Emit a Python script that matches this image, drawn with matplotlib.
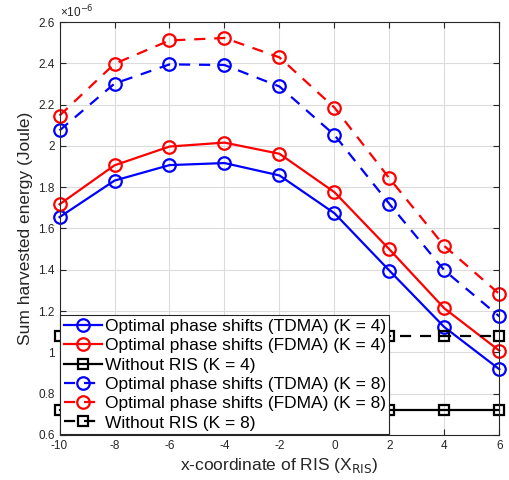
import matplotlib
matplotlib.use('Agg')
import matplotlib.pyplot as plt
from matplotlib.ticker import FuncFormatter

plt.rcParams['font.family'] = ['Liberation Sans', 'DejaVu Sans']
plt.rcParams['axes.unicode_minus'] = False

# x positions of the RIS and harvested energy (units of 1e-6 Joule)
x_ris = [-10, -8, -6, -4, -2, 0, 2, 4, 6]
tdma_k4 = [1.655, 1.832, 1.907, 1.917, 1.857, 1.674, 1.396, 1.122, 0.918]
fdma_k4 = [1.717, 1.906, 1.997, 2.016, 1.962, 1.776, 1.499, 1.213, 1.008]
noris_k4 = [0.72, 0.72, 0.72, 0.72, 0.72, 0.72, 0.72, 0.72, 0.72]
tdma_k8 = [2.075, 2.302, 2.395, 2.392, 2.288, 2.053, 1.719, 1.397, 1.174]
fdma_k8 = [2.147, 2.398, 2.511, 2.523, 2.429, 2.186, 1.843, 1.515, 1.283]
noris_k8 = [1.077, 1.077, 1.077, 1.077, 1.077, 1.077, 1.077, 1.077, 1.077]

labels = ['Optimal phase shifts (TDMA) (K = 4)',
          'Optimal phase shifts (FDMA) (K = 4)',
          'Without RIS (K = 4)',
          'Optimal phase shifts (TDMA) (K = 8)',
          'Optimal phase shifts (FDMA) (K = 8)',
          'Without RIS (K = 8)']

fig = plt.figure(figsize=(5.09, 4.80), dpi=100)
ax = fig.add_axes([0.117, 0.094, 0.864, 0.860])

series = [
    (tdma_k4, 'blue', '-', 'o'),
    (fdma_k4, 'red', '-', 'o'),
    (noris_k4, 'black', '-', 's'),
    (tdma_k8, 'blue', '--', 'o'),
    (fdma_k8, 'red', '--', 'o'),
    (noris_k8, 'black', '--', 's'),
]
for (vals, col, ls, mk), lab in zip(series, labels):
    ms = 9 if mk == 'o' else 7.5
    ax.plot(x_ris, vals, color=col, linestyle=ls, linewidth=1.6, marker=mk,
            markersize=ms, markerfacecolor='none', markeredgewidth=1.6,
            label=lab, clip_on=False, dashes=(5, 4) if ls == '--' else (None, None))

ax.set_xlim(-10, 6)
ax.set_ylim(0.6, 2.6)
ax.set_xticks(range(-10, 7, 2))
ax.set_yticks([0.6, 0.8, 1.0, 1.2, 1.4, 1.6, 1.8, 2.0, 2.2, 2.4, 2.6])
ax.yaxis.set_major_formatter(FuncFormatter(lambda v, p: f'{v:g}'))
ax.tick_params(direction='in', top=True, right=True, labelsize=8.5, length=4,
               width=0.8, colors='#262626', labelcolor='#262626')
ax.grid(True, color='#dcdcdc', linewidth=0.8)
ax.set_axisbelow(True)
for s in ax.spines.values():
    s.set_color('#262626')
    s.set_linewidth(0.8)

ax.set_xlabel('x-coordinate of RIS (X$_{\\mathrm{RIS}}$)', fontsize=12.5, color='#262626',
              labelpad=3)
ax.set_ylabel('Sum harvested energy (Joule)', fontsize=12.5, color='#262626')
ax.text(0.0, 1.005, '\u00d710$^{-6}$', transform=ax.transAxes, fontsize=8.5,
        color='#262626', ha='left', va='bottom')

leg = ax.legend(loc='lower left', fontsize=12.5, frameon=True, fancybox=False,
                edgecolor='#262626', framealpha=1, borderaxespad=0.05,
                labelspacing=0.24, handlelength=2.2, handletextpad=0.15,
                borderpad=0.2)
leg.get_frame().set_linewidth(0.8)
leg.set_zorder(5)

fig.savefig('out.png', dpi=100)
